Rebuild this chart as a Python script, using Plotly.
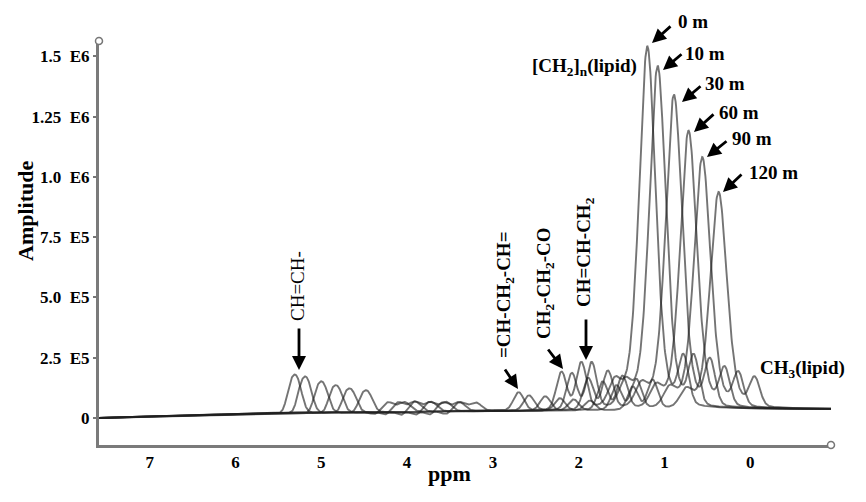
import numpy as np
import plotly.graph_objects as go

# ---------------- data ----------------
time_labels = ["0 m", "10 m", "30 m", "60 m", "90 m", "120 m"]
# chemical-shift drift of every trace relative to the 0 m trace (ppm)
shift_ppm = [0.00, 0.12, 0.31, 0.48, 0.64, 0.83]

# peak table of the 0 m trace: position (ppm), half width (ppm), lorentz fraction
peak_names = ["olefinic_shoulder", "olefinic", "glycerol_a", "glycerol_b", "glycerol_dip",
              "bisallylic", "ch2_co", "allylic", "beta_ch2", "methylene", "methyl"]
peak_ppm = [5.37, 5.29, 4.22, 4.03, 4.37, 2.70, 2.20, 1.97, 1.58, 1.20, 0.78]
peak_hwhm = [0.05, 0.07, 0.08, 0.08, 0.06, 0.07, 0.07, 0.07, 0.08, 0.115, 0.07]
peak_eta = [0.0, 0.0, 0.0, 0.0, 0.0, 0.0, 0.0, 0.0, 0.0, 0.4, 0.0]

# peak amplitudes for each trace (0, 10, 30, 60, 90, 120 m)
h_olefinic_shoulder = [6.0e4, 5.5e4, 5.0e4, 4.5e4, 4.0e4, 3.5e4]
h_olefinic = [1.45e5, 1.38e5, 1.18e5, 1.03e5, 0.90e5, 0.83e5]
h_glycerol_a = [4.0e4, 4.0e4, 4.2e4, 4.0e4, 3.8e4, 3.8e4]
h_glycerol_b = [4.0e4, 4.2e4, 4.0e4, 4.0e4, 3.8e4, 3.6e4]
h_glycerol_dip = [-1.0e4, -1.3e4, -1.5e4, -1.5e4, -1.4e4, -1.2e4]
h_bisallylic = [7.5e4, 6.2e4, 5.8e4, 5.0e4, 4.5e4, 4.0e4]
h_ch2_co = [1.55e5, 1.50e5, 1.30e5, 1.15e5, 1.00e5, 0.95e5]
h_allylic = [1.90e5, 1.90e5, 1.55e5, 1.35e5, 1.22e5, 1.20e5]
h_beta_ch2 = [0.90e5, 0.90e5, 0.80e5, 0.75e5, 0.70e5, 0.65e5]
h_methylene = [1.51e6, 1.43e6, 1.31e6, 1.16e6, 1.05e6, 0.905e6]
h_methyl = [1.92e5, 1.94e5, 1.81e5, 1.50e5, 1.32e5, 1.14e5]

# slowly rising baseline (ppm, amplitude)
baseline_ppm = [7.60, 6.50, 5.50, 4.00, 3.00, 2.00, 1.00, 0.00, -0.95]
baseline_amp = [0.0, 1.2e4, 2.0e4, 2.5e4, 2.8e4, 3.0e4, 3.2e4, 3.4e4, 3.6e4]

y_tick_vals = [0, 2.5e5, 5.0e5, 7.5e5, 1.0e6, 1.25e6, 1.5e6]
y_tick_text = ["0", "2.5\u00a0\u00a0E5", "5.0\u00a0\u00a0E5", "7.5\u00a0\u00a0E5",
               "1.0\u00a0\u00a0E6", "1.25\u00a0\u00a0E6", "1.5\u00a0\u00a0E6"]
x_tick_vals = [7, 6, 5, 4, 3, 2, 1, 0]

X_RANGE = [7.59, -0.94]
Y_RANGE = [-1.12e5, 1.564e6]

heights = [h_olefinic_shoulder, h_olefinic, h_glycerol_a, h_glycerol_b, h_glycerol_dip,
           h_bisallylic, h_ch2_co, h_allylic, h_beta_ch2, h_methylene, h_methyl]

# ---------------- build the spectra from the peak table ----------------
ppm = np.linspace(7.60, -0.95, 1800)
base = np.interp(ppm[::-1], baseline_ppm[::-1], baseline_amp[::-1])[::-1]


def pseudo_voigt(x, c, w, eta):
    d = ((x - c) / w) ** 2
    return (1 - eta) * np.exp(-np.log(2) * d) + eta / (1 + d)


fig = go.Figure()
for i, lab in enumerate(time_labels):
    y = base.copy()
    for k in range(len(peak_ppm)):
        y += heights[k][i] * pseudo_voigt(ppm, peak_ppm[k] - shift_ppm[i], peak_hwhm[k], peak_eta[k])
    fig.add_trace(go.Scatter(x=ppm, y=y, mode="lines", name=lab,
                             line=dict(color="rgba(30,30,30,0.62)", width=1.9),
                             showlegend=False))

# ---------------- layout ----------------
OFF = 8                      # page body margin of the html page
W, H = 866 - OFF, 502 - OFF
L, R, T, B = 99 - OFF, 35, 41 - OFF, 57
PW, PH = W - L - R, H - T - B


def px(xp):                  # page pixel -> paper
    return (xp - OFF - L) / PW


def py(yp):
    return (OFF + H - B - yp) / PH


FONT = "Liberation Serif"
ann = []
# peak labels with arrows (text-left, text-center-y, arrow tail, arrow head)
peak_lbls = [
    ("0 m", 676, 22, (672, 25), (652, 43)),
    ("10 m", 683, 53, (683, 53), (663, 70)),
    ("30 m", 703, 83, (702, 85), (682, 102)),
    ("60 m", 717, 112, (715, 113), (694, 132)),
    ("90 m", 730, 138, (728, 140), (707, 157)),
    ("120 m", 747, 173, (743, 173), (723, 192)),
]
for txt, tx, ty, tail, head in peak_lbls:
    ann.append(dict(x=px(tx), y=py(ty), xref="paper", yref="paper", text=txt,
                    showarrow=False, xanchor="left", yanchor="middle",
                    font=dict(family=FONT, size=19, color="black", weight="bold")))
    ann.append(dict(x=px(head[0]), y=py(head[1]), xref="paper", yref="paper", text="",
                    showarrow=True, ax=tail[0] - head[0], ay=tail[1] - head[1],
                    arrowhead=2, arrowsize=1.0, arrowwidth=2.8, arrowcolor="black"))

ann.append(dict(x=px(530), y=py(67), xref="paper", yref="paper",
                text="[CH<sub>2</sub>]<sub>n</sub>(lipid)", showarrow=False,
                xanchor="left", yanchor="middle",
                font=dict(family=FONT, size=19, color="black", weight="bold")))
ann.append(dict(x=px(758), y=py(369), xref="paper", yref="paper",
                text="CH<sub>3</sub>(lipid)", showarrow=False,
                xanchor="left", yanchor="middle",
                font=dict(family=FONT, size=19, color="black", weight="bold")))

# rotated group labels
rot_lbls = [
    ("CH=CH-", 297, 286, "normal", (299, 327), (299, 370)),
    ("=CH-CH<sub>2</sub>-CH=", 505, 295, "bold", (504, 368), (518, 389)),
    ("CH<sub>2</sub>-CH<sub>2</sub>-CO", 545, 284, "bold", (547, 348), (563, 369)),
    ("CH=CH-CH<sub>2</sub>", 585, 252, "bold", (586, 318), (586, 360)),
]
for txt, cx, cy, wt, tail, head in rot_lbls:
    ann.append(dict(x=px(cx), y=py(cy), xref="paper", yref="paper", text=txt,
                    showarrow=False, textangle=-90, xanchor="center", yanchor="middle",
                    font=dict(family=FONT, size=19, color="black", weight=wt)))
    ann.append(dict(x=px(head[0]), y=py(head[1]), xref="paper", yref="paper", text="",
                    showarrow=True, ax=tail[0] - head[0], ay=tail[1] - head[1],
                    arrowhead=2, arrowsize=1.0, arrowwidth=2.8, arrowcolor="black"))

# axis titles
ann.append(dict(x=px(449), y=py(473), xref="paper", yref="paper", text="ppm",
                showarrow=False, xanchor="center", yanchor="middle",
                font=dict(family=FONT, size=22, color="black", weight="bold")))
ann.append(dict(x=px(25), y=py(211), xref="paper", yref="paper", text="Amplitude",
                showarrow=False, textangle=-90, xanchor="center", yanchor="middle",
                font=dict(family=FONT, size=22, color="black", weight="bold")))

shapes = [
    dict(type="circle", xref="paper", yref="paper", xsizemode="pixel", ysizemode="pixel",
         xanchor=0, yanchor=1, x0=-3.5, x1=3.5, y0=-3.5, y1=3.5,
         line=dict(color="#777777", width=1.5), fillcolor="white"),
    dict(type="circle", xref="paper", yref="paper", xsizemode="pixel", ysizemode="pixel",
         xanchor=1, yanchor=0, x0=-3.5, x1=3.5, y0=-3.5, y1=3.5,
         line=dict(color="#777777", width=1.5), fillcolor="white"),
]

fig.update_layout(
    width=W, height=H, margin=dict(l=L, r=R, t=T, b=B, pad=0),
    paper_bgcolor="white", plot_bgcolor="white",
    annotations=ann, shapes=shapes,
    xaxis=dict(range=X_RANGE, tickvals=x_tick_vals, ticks="", showgrid=False,
               zeroline=False, showline=True, linecolor="#7a7a7a", linewidth=3,
               tickfont=dict(family=FONT, size=17, color="black", weight="bold")),
    yaxis=dict(range=Y_RANGE, tickvals=y_tick_vals, ticktext=y_tick_text,
               ticks="outside", ticklen=3, tickwidth=2, tickcolor="#777777",
               showgrid=False, zeroline=False, showline=True, linecolor="#7a7a7a",
               linewidth=3,
               tickfont=dict(family=FONT, size=17, color="black", weight="bold")),
)

fig.write_html("out.html")
